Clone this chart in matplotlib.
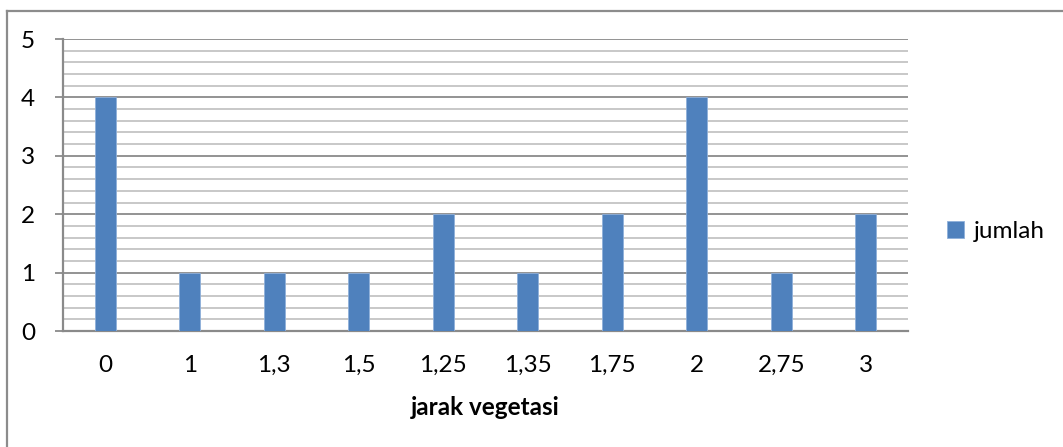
import matplotlib
matplotlib.use("Agg")
import matplotlib.pyplot as plt
from matplotlib.lines import Line2D
from matplotlib.ticker import MultipleLocator

categories = ["0", "1", "1,3", "1,5", "1,25", "1,35", "1,75", "2", "2,75", "3"]
jumlah = [4, 1, 1, 1, 2, 1, 2, 4, 1, 2]

plt.rcParams["font.family"] = ["Lato", "DejaVu Sans"]

W, H = 1063, 447
fig = plt.figure(figsize=(W / 100, H / 100), dpi=100)
ax = fig.add_axes([63 / W, (H - 331) / H, (908 - 63) / W, (331 - 39) / H])

bar_color = "#4F81BD"
x = list(range(len(categories)))
ax.bar(x, jumlah, width=0.25, color=bar_color, edgecolor="#8FB0DA",
       linewidth=0.6, zorder=3, label="jumlah")

ax.set_xlim(-0.5, len(categories) - 0.5)
ax.set_ylim(0, 5)
ax.yaxis.set_major_locator(MultipleLocator(1))
ax.yaxis.set_minor_locator(MultipleLocator(0.2))
ax.grid(which="minor", axis="y", color="#C4C4C4", linewidth=1.3, zorder=1)
ax.grid(which="major", axis="y", color="#8A8A8A", linewidth=1.3, zorder=2)

fs = 17.5
ax.set_xticks(x)
ax.set_xticklabels(categories, fontsize=fs)
ax.tick_params(axis="x", length=0, pad=17)
ax.tick_params(axis="y", which="major", length=6, width=1.3, color="#8A8A8A",
               labelsize=fs, pad=14)
ax.tick_params(axis="y", which="minor", length=0)

for side in ("top", "right"):
    ax.spines[side].set_visible(False)
for side in ("left", "bottom"):
    ax.spines[side].set_color("#8A8A8A")
    ax.spines[side].set_linewidth(1.6)

ax.set_xlabel("jarak vegetasi", fontsize=fs, fontweight="bold", labelpad=15)

leg = ax.legend(loc="center left", bbox_to_anchor=(1.035, 0.34), frameon=False,
                fontsize=fs, handlelength=0.7, handleheight=0.7,
                handletextpad=0.4, borderaxespad=0)

# outer chart frame
frame_kw = dict(color="#8C8C8C", linewidth=1.6, transform=fig.transFigure)
fig.add_artist(Line2D([6.5 / W, 1.0], [(H - 11) / H, (H - 11) / H], **frame_kw))
fig.add_artist(Line2D([6.5 / W, 6.5 / W], [(H - 11) / H, 1 / H], **frame_kw))

fig.savefig("out.png", dpi=100)
